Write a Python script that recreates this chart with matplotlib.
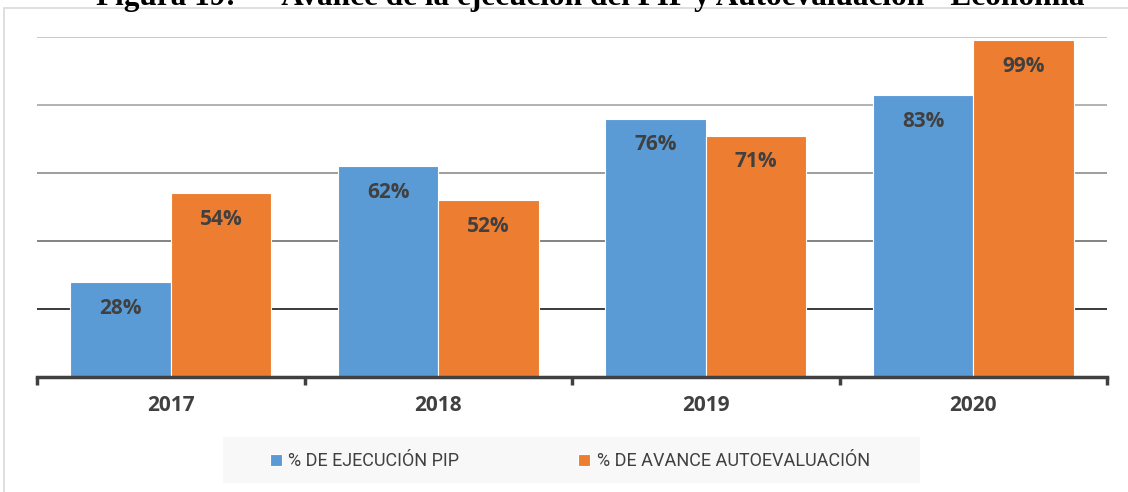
import numpy as np
import matplotlib.pyplot as plt
from matplotlib.patches import Rectangle

years = ['2017', '2018', '2019', '2020']
ejecucion_pip = [28, 62, 76, 83]
avance_autoeval = [54, 52, 71, 99]
series_names = ['% DE EJECUCIÓN PIP', '% DE AVANCE AUTOEVALUACIÓN']
title = 'Figura 19:      Avance de la ejecución del PIP y Autoevaluación - Economía'

blue = '#5B9BD5'
orange = '#ED7D31'
txt = '#404040'

W, H = 1128, 492
fig = plt.figure(figsize=(W / 100, H / 100), dpi=100)
ax = fig.add_axes([37 / W, 1 - 377 / H, (1107 - 37) / W, 340 / H])

# outer chart frame (cut off by the image on the right and bottom)
fig.patches.append(Rectangle((4 / W, -0.05), 1.2, 1 - 8 / H + 0.05,
                             transform=fig.transFigure, fill=False,
                             edgecolor='#d9d9d9', linewidth=1.2))
# legend background
fig.patches.append(Rectangle((223 / W, 1 - 483 / H), (920 - 223) / W, 46 / H,
                             transform=fig.transFigure, facecolor='#f8f8f8',
                             edgecolor='none'))

x = np.arange(len(years))
bw = 0.375
b1 = ax.bar(x - bw / 2, ejecucion_pip, bw, color=blue, edgecolor='white',
            linewidth=0.8, label=series_names[0], zorder=3)
b2 = ax.bar(x + bw / 2, avance_autoeval, bw, color=orange, edgecolor='white',
            linewidth=0.8, label=series_names[1], zorder=3)

for bars in (b1, b2):
    for r in bars:
        v = r.get_height()
        ax.annotate(f'{v:.0f}%', (r.get_x() + r.get_width() / 2, v),
                    xytext=(0, -19), textcoords='offset points',
                    ha='center', va='center', fontsize=15, fontweight='bold',
                    color=txt, family='Open Sans', zorder=4)

ax.set_xlim(-0.5, len(years) - 0.5)
ax.set_ylim(0, 100)

# gridlines (they get darker towards the bottom in the original)
grid_cols = {20: '#1a1a1a', 40: '#6e6e6e', 60: '#8c8c8c', 80: '#a6a6a6', 100: '#bfbfbf'}
for yv, c in grid_cols.items():
    ax.axhline(yv, color=c, linewidth=1.2, zorder=1)

for s in ['top', 'right', 'left']:
    ax.spines[s].set_visible(False)
ax.spines['bottom'].set_color(txt)
ax.spines['bottom'].set_linewidth(2.5)
ax.spines['bottom'].set_zorder(5)
ax.set_yticks([])

ax.set_xticks(np.arange(-0.5, len(years), 1.0), minor=False)
ax.set_xticklabels([])
ax.tick_params(axis='x', which='major', length=6, width=2.5, color=txt)
ax.set_xticks(x, minor=True)
ax.set_xticklabels(years, minor=True, fontsize=15, fontweight='bold',
                   color=txt, family='Open Sans')
ax.tick_params(axis='x', which='minor', length=0, pad=13)

leg = fig.legend(handles=[b1, b2], labels=series_names, loc='center left',
                 bbox_to_anchor=(270 / W, 1 - 461 / H), ncol=2,
                 frameon=False, handlelength=0.66, handleheight=0.66,
                 handletextpad=0.35, columnspacing=6.6, borderpad=0.0,
                 borderaxespad=0.0,
                 prop={'family': 'Roboto', 'size': 13})
for t in leg.get_texts():
    t.set_color(txt)

fig.text(590 / W, 1 - 5 / H, title, ha='center', va='baseline',
         fontsize=22.5, fontweight='bold', family='Liberation Serif', color='black')

fig.savefig('out.png', dpi=100)
